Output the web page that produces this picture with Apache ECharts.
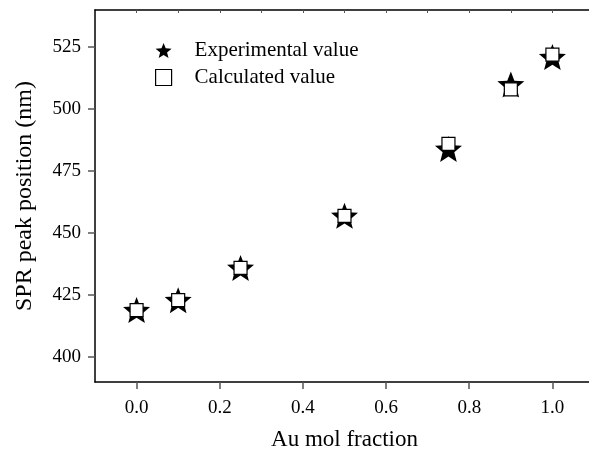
<!DOCTYPE html>
<html>
<head>
<meta charset="utf-8">
<script src="https://cdn.jsdelivr.net/npm/echarts@6/dist/echarts.min.js"></script>
<style>
  html, body { margin: 0; padding: 0; background: #fff; }
  #chart { width: 589px; height: 450px; }
</style>
</head>
<body>
<div id="chart"></div>
<script>
// Au mol fraction and SPR peak positions (nm)
const auFraction = [0.0, 0.1, 0.25, 0.5, 0.75, 0.9, 1.0]
const experimental = [419, 423, 436, 457, 484, 510, 521]
const calculated = [419, 423, 436, 457, 486, 508, 522]
const xTicks = [0, 0.2, 0.4, 0.6, 0.8, 1.0]
const xTopTicks = [0, 0.1, 0.2, 0.3, 0.4, 0.5, 0.6, 0.7, 0.8, 0.9, 1.0]
const yTicks = [400, 425, 450, 475, 500, 525]

// five-point star, fairly fat arms
const STAR = 'path://M50 0 L62.5 32.5 L97.55 34.55 L70.5 57 L79.39 90.45 L50 72 L20.61 90.45 L29.5 57 L2.45 34.55 L37.5 32.5 Z'
const FONT = '"Liberation Serif", "Times New Roman", serif'

const pairs = (xs, ys) => xs.map((x, i) => [x, ys[i]])

const chart = echarts.init(document.getElementById('chart'))
const option = {
  animation: false,
  backgroundColor: '#fff',
  grid: { left: 95, top: 10, right: -5, bottom: 68, containLabel: false, outerBoundsMode: 'none' },
  legend: {
    orient: 'vertical',
    left: 150,
    top: 35,
    itemWidth: 16,
    itemHeight: 16,
    itemGap: 6,
    textStyle: { fontFamily: FONT, fontSize: 21, color: '#000', padding: [0, 0, 0, 18] },
    data: [
      { name: 'Experimental value', icon: STAR },
      { name: 'Calculated value', icon: 'rect', itemStyle: { color: '#fff', borderColor: '#000', borderWidth: 1.2 } }
    ]
  },
  xAxis: [
    {
      type: 'value',
      min: -0.1,
      max: 1.1,
      position: 'bottom',
      name: 'Au mol fraction',
      nameLocation: 'middle',
      nameGap: 46,
      nameTextStyle: { fontFamily: FONT, fontSize: 23, color: '#000' },
      axisLine: { onZero: false, lineStyle: { color: '#000', width: 1.5 } },
      axisTick: { inside: false, length: 7, lineStyle: { color: '#555', width: 1.5 }, customValues: xTicks },
      axisLabel: { fontFamily: FONT, fontSize: 19, color: '#000', margin: 17, customValues: xTicks,
        formatter: v => v.toFixed(1) },
      splitLine: { show: false }
    },
    {
      type: 'value',
      min: -0.1,
      max: 1.1,
      position: 'top',
      axisLine: { show: true, onZero: false, lineStyle: { color: '#000', width: 1.5 } },
      axisTick: { show: true, inside: true, length: 3, lineStyle: { color: '#555' }, customValues: xTopTicks },
      axisLabel: { show: false },
      splitLine: { show: false }
    }
  ],
  yAxis: {
    type: 'value',
    min: 390,
    max: 540,
    name: 'SPR peak position (nm)',
    nameLocation: 'middle',
    nameGap: 58,
    nameTextStyle: { fontFamily: FONT, fontSize: 24, color: '#000' },
    axisLine: { show: true, onZero: false, lineStyle: { color: '#000', width: 1.5 } },
    axisTick: { show: true, length: 7, lineStyle: { color: '#555', width: 1.5 }, customValues: yTicks },
    axisLabel: { fontFamily: FONT, fontSize: 19, color: '#000', margin: 14, customValues: yTicks },
    splitLine: { show: false }
  },
  series: [
    {
      name: 'Experimental value',
      type: 'scatter',
      symbol: STAR,
      symbolSize: [27, 26],
      itemStyle: { color: '#000', opacity: 1 },
      z: 2,
      data: pairs(auFraction, experimental)
    },
    {
      name: 'Calculated value',
      type: 'scatter',
      symbol: 'rect',
      symbolSize: 13,
      itemStyle: { color: '#fff', borderColor: '#000', borderWidth: 1.2, opacity: 1 },
      z: 3,
      data: pairs(auFraction, calculated)
    }
  ]
}
chart.setOption(option)
</script>
</body>
</html>
